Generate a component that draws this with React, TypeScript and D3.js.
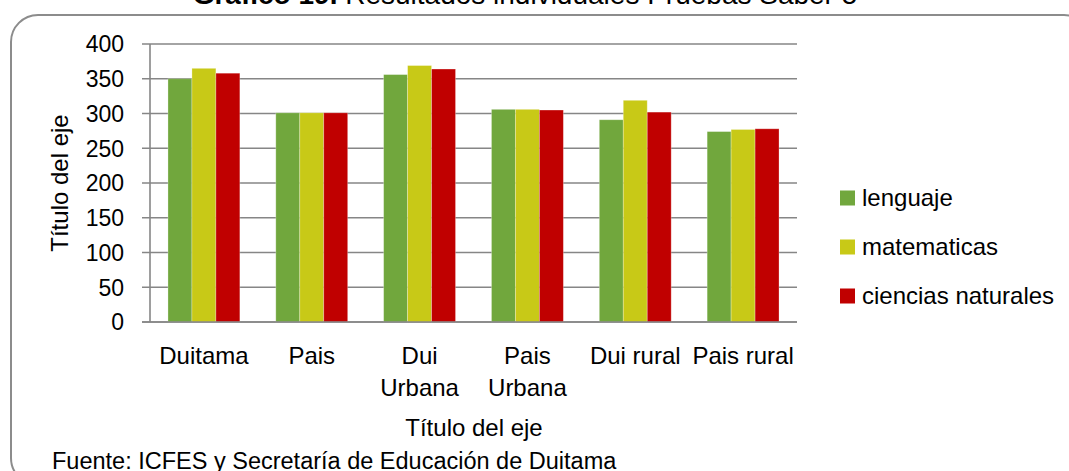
import React from "react";
import * as d3 from "d3";

const categories: string[][] = [
  ["Duitama"],
  ["Pais"],
  ["Dui", "Urbana"],
  ["Pais", "Urbana"],
  ["Dui rural"],
  ["Pais rural"],
];
const seriesNames = ["lenguaje", "matematicas", "ciencias naturales"];
const lenguaje = [350, 301, 356, 306, 291, 274];
const matematicas = [365, 301, 369, 306, 319, 277];
const cienciasNaturales = [358, 301, 364, 305, 302, 278];
const yTicks = [0, 50, 100, 150, 200, 250, 300, 350, 400];
const colors = ["#71A73D", "#C8C917", "#C00000"];

const W = 1069;
const H = 471;
const FONT = "'Liberation Sans', Arial, sans-serif";

export default function App() {
  const series = [lenguaje, matematicas, cienciasNaturales];
  const x0 = d3
    .scaleBand<number>()
    .domain(categories.map((_, i) => i))
    .range([150, 797]);
  const band = x0.bandwidth();
  const barW = band / 4.5;
  const y = d3.scaleLinear().domain([0, 400]).range([322, 44]);

  return (
    <svg
      width={W}
      height={H}
      style={{ position: "absolute", left: 0, top: 0, display: "block" }}
      fontFamily={FONT}
    >
      <rect x={0} y={0} width={W} height={H} fill="#fff" />
      <text x={525} y={3.5} textAnchor="middle" fontSize={28} fill="#000">
        <tspan fontWeight="bold">Gráfico 19.</tspan>
        <tspan> Resultados individuales Pruebas Saber 5</tspan>
      </text>
      <rect
        x={11}
        y={15}
        width={1080}
        height={470}
        rx={27}
        ry={27}
        fill="none"
        stroke="#8c8c8c"
        strokeWidth={2}
      />
      {yTicks.map((t) => (
        <g key={t}>
          <line
            x1={142}
            x2={797}
            y1={y(t)}
            y2={y(t)}
            stroke="#868686"
            strokeWidth={1.6}
          />
          <text
            x={124}
            y={y(t)}
            dy="0.36em"
            textAnchor="end"
            fontSize={23}
            fill="#000"
          >
            {t}
          </text>
        </g>
      ))}
      <line x1={150} x2={150} y1={44} y2={322} stroke="#868686" strokeWidth={1.6} />
      {categories.map((_, i) => {
        const start = (x0(i) as number) + (band - 3 * barW) / 2;
        return (
          <g key={i}>
            {series.map((s, j) => (
              <rect
                key={j}
                x={start + j * barW}
                y={y(s[i])}
                width={barW}
                height={y(0) - y(s[i])}
                fill={colors[j]}
                stroke="rgba(255,255,255,0.35)"
                strokeWidth={0.8}
              />
            ))}
          </g>
        );
      })}
      <line x1={142} x2={797} y1={322} y2={322} stroke="#868686" strokeWidth={1.6} />
      {categories.map((lines, i) => {
        const cx = (x0(i) as number) + band / 2;
        return (
          <text key={i} x={cx} y={364} textAnchor="middle" fontSize={24} fill="#000">
            {lines.map((l, k) => (
              <tspan key={k} x={cx} y={364 + k * 32}>
                {l}
              </tspan>
            ))}
          </text>
        );
      })}
      <text x={474} y={436} textAnchor="middle" fontSize={24} fill="#000">
        Título del eje
      </text>
      <text
        transform={`translate(68,183) rotate(-90)`}
        textAnchor="middle"
        fontSize={24}
        fill="#000"
      >
        Título del eje
      </text>
      {seriesNames.map((n, j) => {
        const cy = 198 + j * 49;
        return (
          <g key={n}>
            <rect x={840} y={cy - 7.5} width={15} height={15} fill={colors[j]} />
            <text x={862} y={cy + 8} fontSize={24} fill="#000">
              {n}
            </text>
          </g>
        );
      })}
      <text x={52} y={469} fontSize={23.5} fill="#000">
        Fuente: ICFES y Secretaría de Educación de Duitama
      </text>
    </svg>
  );
}
